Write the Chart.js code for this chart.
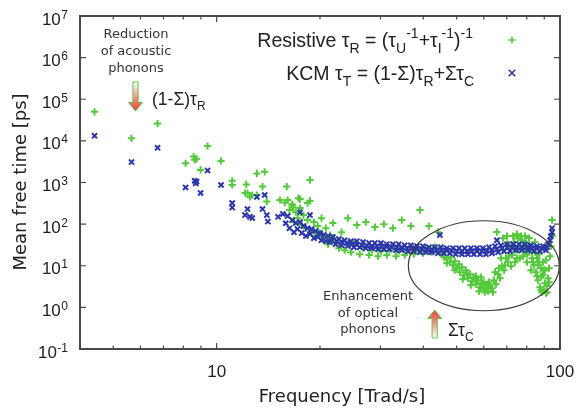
<!DOCTYPE html>
<html>
<head>
<meta charset="utf-8">
<script src="https://cdn.jsdelivr.net/npm/chart.js@4.4.1/dist/chart.umd.min.js"></script>
<style>
  html, body { margin: 0; padding: 0; background: #fff; }
  canvas { display: block; }
</style>
</head>
<body>
<canvas id="tauChart" width="582" height="410"></canvas>
<script>
// ::::: DATA :::::
// Resistive tau_R  (green +)
const resistiveFreq = [
    4.41, 5.65, 6.73, 8.12, 8.57, 8.63, 8.74, 8.98, 9.41, 10.3, 11.1, 11.1, 12.1, 12.2, 12.5,
    12.3, 12.7, 13.1, 13.1, 13.6, 13.8, 14.0, 15.3, 15.8, 16.0, 16.6, 16.7, 17.3, 17.5, 18.4, 18.7, 18.7,
    16.1, 16.3, 16.6, 16.8, 17.0, 17.2, 17.5, 17.7, 17.9, 18.2, 18.4, 18.9, 19.2, 19.4, 19.7, 20.0,
    20.2, 20.5, 20.8, 21.1, 21.4, 21.8, 22.2, 22.7, 23.1, 23.6, 24.1, 24.6, 25.1, 25.6, 26.1, 26.7,
    27.2, 27.8, 28.3, 28.9, 29.5, 30.1, 30.7, 31.3, 31.9, 32.6, 33.3, 33.9, 34.6, 35.3, 36.1, 36.8,
    37.5, 38.3, 39.1, 39.9, 40.7, 41.5, 42.3, 43.2, 44.1, 45.0, 45.9, 46.8, 47.8, 48.8, 49.4, 50.1,
    51.1, 51.8, 52.5, 53.2, 53.9, 54.7, 55.4, 56.1, 56.9, 56.9, 57.7, 58.5, 59.2, 60.0, 60.0, 60.9,
    61.7, 61.7, 62.5, 63.4, 64.2, 65.1, 65.5, 66.0, 66.9, 67.8, 68.2, 68.7, 69.6, 70.1, 70.6, 71.5,
    72.5, 73.4, 73.9, 74.4, 74.9, 75.4, 76.4, 76.4, 77.5, 78.5, 79.1, 79.6, 80.1, 80.7, 81.8, 82.3,
    82.9, 84.0, 84.5, 85.1, 85.7, 86.3, 86.8, 87.4, 88.0, 88.6, 89.2, 89.8, 89.8, 90.4, 91.0, 91.0,
    91.6, 92.3, 92.9, 93.5, 94.1, 94.8, 94.8,
    46.8, 48.1, 49.4, 50.8, 52.1, 53.6, 55.0, 56.5, 58.1, 58.9, 60.4, 62.1, 63.8, 64.7,
    66.4, 67.3, 68.2, 69.1, 70.1, 71.0, 72.0, 73.0, 73.9, 74.9, 75.9, 77.0, 78.0, 79.1, 80.1, 81.2,
    82.3, 83.4, 84.5, 85.7, 86.3, 86.8, 88.0, 88.0, 89.2, 90.4, 91.6, 92.9
];
const resistiveTau = [
    50000, 11500, 26000, 2900, 4200, 3500, 3700, 2000, 7500, 3300, 1100, 870, 560, 900, 450,
    560, 500, 1650, 500, 800, 1800, 350, 380, 330, 800, 300, 250, 420, 400, 320, 1150, 360,
    378, 217, 286, 112, 194, 139, 243, 95, 165, 80, 125, 64, 112, 51.5, 90, 61,
    139, 46, 80, 33, 54.5, 106, 41, 26.5, 64, 23.7, 139, 21.2, 35, 95, 19, 26.5,
    112, 18, 23.7, 85, 17, 22.4, 100, 18, 23.7, 80, 17, 22.4, 125, 18, 23.7, 90,
    19, 25, 217, 20, 26.5, 90, 21.2, 28, 64, 20, 16.1, 14.4, 12.2, 10.3, 12.9, 8.75,
    7.0, 9.25, 5.94, 7.83, 5.03, 6.28, 4.26, 5.32, 3.61, 5.62, 4.51, 3.06, 3.82, 2.74, 4.03, 3.42,
    2.45, 3.61, 3.24, 2.9, 4.51, 3.61, 64.3, 6.28, 5.03, 9.78, 46, 7.83, 15.2, 51.5, 12.2, 26.5,
    18, 36.9, 12.2, 23.7, 57.5, 46, 29.6, 15.2, 41, 23.7, 51.5, 35, 12.2, 21.2, 29.6, 7.83,
    15.2, 10.3, 21.2, 7.0, 15.2, 4.51, 12.2, 3.06, 8.75, 2.32, 5.94, 2.59, 7.83, 3.82, 2.19, 13.6,
    3.24, 5.03, 8.75, 17, 29.6, 51.5, 125,
    11.5, 16.1, 7.83, 10.9, 4.76, 6.63, 3.42, 4.76, 2.45, 5.32, 2.32, 4.03, 2.32, 7.0,
    8.75, 15.2, 23.7, 10.3, 33, 17, 9.78, 51.5, 29.6, 15.2, 23.7, 51.5, 17, 33, 19, 46.1,
    23.7, 12.2, 36.9, 5.62, 10.3, 19, 5.62, 2.59, 12.2, 7.83, 2.32, 4.03
];
// KCM tau_T  (blue x)
const kcmFreq = [
    4.41, 5.65, 6.73, 8.12, 8.63, 8.69, 8.74, 8.98, 9.41, 10.3, 11.1, 11.1, 12.1, 12.3, 12.5,
    12.7, 13.1, 13.6, 13.8, 14.0, 14.1, 15.1, 15.6, 15.9,
    16.1, 16.3, 16.6, 16.8, 17.0, 17.2, 17.5, 17.5, 17.7, 17.9, 18.2, 18.4, 18.7, 18.7, 18.9, 19.2,
    19.4, 19.7, 20.0, 20.2, 20.5, 20.8, 21.1, 21.4, 21.8, 22.2, 22.7, 23.1, 23.6, 24.1, 24.6, 25.1,
    25.6, 26.1, 26.7, 27.2, 27.8, 28.3, 28.9, 29.5, 30.1, 30.7, 31.3, 31.9, 32.6, 33.3, 33.9, 34.6,
    35.3, 36.1, 36.8, 37.5, 38.3, 39.1, 39.9, 40.7, 41.5, 42.3, 43.2, 44.1, 44.7, 45.0, 45.9, 46.8,
    47.8, 48.8, 49.7, 50.8, 51.8, 52.8, 53.9, 55.0, 56.1, 57.3, 58.5, 59.6, 60.9, 62.1, 63.4, 64.7,
    65.5, 66.0, 67.3, 68.7, 70.1, 71.5, 73.0, 74.4, 75.9, 77.5, 79.1, 80.7, 82.3, 84.0, 85.7, 87.4,
    89.2, 91.0, 92.3, 93.5, 94.1, 94.8, 94.8,
    21.6, 22.4, 23.1, 23.9, 24.8, 25.6, 26.5, 27.4, 28.3, 29.3, 30.3, 31.3, 32.4, 33.5, 34.6, 35.8,
    37.0, 38.3, 39.6, 41.0, 42.3, 43.8, 45.3, 46.8, 48.4, 50.1, 51.8, 53.6, 55.4, 57.3, 59.2, 61.3,
    63.4, 65.5, 67.8, 70.1, 72.5, 74.9, 77.5, 80.1, 82.9, 85.7, 88.6, 91.6
];
const kcmTau = [
    13200, 3100, 6800, 760, 1100, 950, 1050, 560, 1950, 870, 320, 250, 165, 230, 150,
    140, 450, 230, 500, 165, 115, 150, 175, 105,
    156, 80, 125, 64, 106, 76, 112, 194, 61, 90, 52, 80, 58, 165, 76, 46,
    68, 49, 61, 41, 55, 39, 52, 37, 49, 33, 44, 31, 41, 30, 39, 28,
    39, 28, 37, 26.5, 35, 26.5, 35, 25, 35, 25, 33, 25, 33, 23.7, 33, 23.7,
    31, 22.4, 31, 22.4, 29.6, 21.2, 29.6, 21.2, 28, 21.2, 28, 20.1, 54.5, 28, 20.1, 26.5,
    20.1, 26.5, 19, 26.5, 19, 26.5, 19, 26.5, 19, 26.5, 19, 26.5, 19, 28, 20.1, 29.6,
    41, 21.2, 31, 22.4, 33, 22.4, 33, 23.7, 33, 23.7, 33, 23.7, 31, 22.4, 29.6, 22.4,
    29.6, 23.7, 33, 41, 51.5, 64, 80,
    41, 38, 37, 35, 33, 32, 31, 30.4, 29.6, 29.6, 28.8, 28.8, 28, 28, 27.3, 26.5,
    26.5, 25.1, 25.1, 24.4, 24.4, 23.7, 23.7, 23, 23, 22.4, 22.4, 22.4, 22.4, 22.4, 22.4, 23,
    23.7, 25.1, 26.5, 27.3, 27.3, 28, 28, 28, 26.5, 25.8, 25.8, 28
];
// ::::: AXES :::::
const xRange = [4, 100];
const yRange = [0.1, 1e7];
const xTickLabels = [10, 100];
const xMinorTicks = [5, 6, 7, 8, 9, 20, 30, 40, 50, 60, 70, 80, 90];
const yTickExponents = [-1, 0, 1, 2, 3, 4, 5, 6, 7];

const greenColor = "#55c93c";
const blueColor = "#2b36a8";
const inkColor = "#222";

// Text with sub/superscripts: parts are [text, "n" | "sub" | "sup"]
function drawRich(ctx, parts, x, y, align, size, family) {
    const small = Math.round(size * 0.7);
    const widths = parts.map(p => {
        ctx.font = (p[1] === "n" ? size : small) + "px " + family;
        return ctx.measureText(p[0]).width;
    });
    const total = widths.reduce((a, b) => a + b, 0);
    let cx = align === "right" ? x - total : (align === "center" ? x - total / 2 : x);
    ctx.textAlign = "left";
    ctx.textBaseline = "alphabetic";
    parts.forEach((p, i) => {
        ctx.font = (p[1] === "n" ? size : small) + "px " + family;
        let dy = 0;
        if (p[1] === "sub") dy = size * 0.3;
        if (p[1] === "sup") dy = -size * 0.45;
        ctx.fillText(p[0], cx, y + dy);
        cx += widths[i];
    });
}

function drawMarker(ctx, x, y, rot, color) {
    const r = 3.2;
    ctx.strokeStyle = color;
    ctx.lineWidth = 1.6;
    ctx.beginPath();
    if (rot) {
        ctx.moveTo(x - r, y - r); ctx.lineTo(x + r, y + r);
        ctx.moveTo(x + r, y - r); ctx.lineTo(x - r, y + r);
    } else {
        ctx.moveTo(x - r, y); ctx.lineTo(x + r, y);
        ctx.moveTo(x, y - r); ctx.lineTo(x, y + r);
    }
    ctx.stroke();
}

// Block arrow with a red -> white gradient and green outline
function drawArrow(ctx, cx, tipY, tailY, down) {
    const dir = down ? 1 : -1;
    const headLen = 8.5;
    const baseY = tipY - dir * headLen;
    const grad = ctx.createLinearGradient(0, tipY, 0, tailY);
    grad.addColorStop(0, "#e8473b");
    grad.addColorStop(0.35, "#ee7a6e");
    grad.addColorStop(1, "#ffffff");
    ctx.beginPath();
    ctx.moveTo(cx, tipY);
    ctx.lineTo(cx + 7, baseY);
    ctx.lineTo(cx + 2.6, baseY);
    ctx.lineTo(cx + 2.6, tailY);
    ctx.lineTo(cx - 2.6, tailY);
    ctx.lineTo(cx - 2.6, baseY);
    ctx.lineTo(cx - 7, baseY);
    ctx.closePath();
    ctx.fillStyle = grad;
    ctx.fill();
    ctx.strokeStyle = "#5cc64a";
    ctx.lineWidth = 1;
    ctx.stroke();
}

const gnuplotLook = {
    id: "gnuplotLook",
    afterDatasetsDraw(chart) {
        const ctx = chart.ctx;
        const area = chart.chartArea;
        const xs = chart.scales.x;
        const ys = chart.scales.y;
        ctx.save();

        // ellipse around the optical region
        ctx.beginPath();
        ctx.ellipse(xs.getPixelForValue(60), ys.getPixelForValue(10), 75.5, 45, 0, 0, Math.PI * 2);
        ctx.strokeStyle = "#3a3a3a";
        ctx.lineWidth = 1.2;
        ctx.stroke();

        // frame
        ctx.strokeStyle = "#4a4a4a";
        ctx.lineWidth = 2;
        ctx.strokeRect(area.left, area.top, area.right - area.left, area.bottom - area.top);

        // y ticks (both sides) and labels
        ctx.lineWidth = 1.2;
        ctx.fillStyle = inkColor;
        yTickExponents.forEach(e => {
            const py = ys.getPixelForValue(Math.pow(10, e));
            ctx.beginPath();
            ctx.moveTo(area.left, py); ctx.lineTo(area.left + 6, py);
            ctx.moveTo(area.right, py); ctx.lineTo(area.right - 6, py);
            ctx.stroke();
            ctx.font = "12px 'Liberation Sans'";
            const expW = ctx.measureText(String(e)).width;
            ctx.textAlign = "left";
            ctx.textBaseline = "alphabetic";
            ctx.fillText(String(e), 68 - expW, py + 2.5);
            ctx.font = "17px 'Liberation Sans'";
            ctx.textAlign = "right";
            ctx.fillText("10", 68 - expW - 0.5, py + 8.5);
        });

        // x ticks (bottom and top)
        xTickLabels.forEach(v => {
            const px = xs.getPixelForValue(v);
            ctx.beginPath();
            ctx.moveTo(px, area.bottom); ctx.lineTo(px, area.bottom - 6);
            ctx.moveTo(px, area.top); ctx.lineTo(px, area.top + 6);
            ctx.stroke();
            ctx.font = "17px 'Liberation Sans'";
            ctx.textAlign = "center";
            ctx.fillText(String(v), px, 377);
        });
        xMinorTicks.forEach(v => {
            const px = xs.getPixelForValue(v);
            ctx.beginPath();
            ctx.moveTo(px, area.bottom); ctx.lineTo(px, area.bottom - 3.5);
            ctx.moveTo(px, area.top); ctx.lineTo(px, area.top + 3.5);
            ctx.stroke();
        });

        // axis titles
        ctx.font = "18px 'DejaVu Sans'";
        ctx.textAlign = "center";
        ctx.textBaseline = "alphabetic";
        ctx.fillText("Frequency [Trad/s]", 342, 402);
        ctx.save();
        ctx.translate(26, 182);
        ctx.rotate(-Math.PI / 2);
        ctx.fillText("Mean free time [ps]", 0, 0);
        ctx.restore();

        // legend
        const lf = "'Liberation Sans'";
        drawRich(ctx, [["Resistive τ", "n"], ["R", "sub"], [" = (τ", "n"], ["U", "sub"], ["-1", "sup"],
            ["+τ", "n"], ["I", "sub"], ["-1", "sup"], [")", "n"], ["-1", "sup"]], 473, 47, "right", 19.5, lf);
        drawRich(ctx, [["KCM τ", "n"], ["T", "sub"], [" = (1-Σ)τ", "n"], ["R", "sub"], ["+Στ", "n"], ["C", "sub"]],
            474, 80, "right", 19.5, lf);
        drawMarker(ctx, 512, 40, false, greenColor);
        drawMarker(ctx, 512, 73, true, blueColor);

        // annotations
        ctx.fillStyle = "#333";
        ctx.font = "13px 'DejaVu Sans'";
        ctx.textAlign = "center";
        ctx.textBaseline = "middle";
        ["Reduction", "of acoustic", "phonons"].forEach((t, i) => ctx.fillText(t, 136, 35 + i * 16.7));
        ["Enhancement", "of optical", "phonons"].forEach((t, i) => ctx.fillText(t, 368, 297 + i * 16.5));
        ctx.fillStyle = inkColor;
        drawRich(ctx, [["(1-Σ)τ", "n"], ["R", "sub"]], 152, 105, "left", 17.5, lf);
        drawRich(ctx, [["Στ", "n"], ["C", "sub"]], 448, 336, "left", 17.5, lf);
        drawArrow(ctx, 135.5, 111, 82, true);
        drawArrow(ctx, 434.7, 310, 338, false);

        ctx.restore();
    }
};

const resistivePoints = resistiveFreq.map((f, i) => ({ x: f, y: resistiveTau[i] }));
const kcmPoints = kcmFreq.map((f, i) => ({ x: f, y: kcmTau[i] }));

const ctx = document.getElementById("tauChart");
const tauChart = new Chart(ctx, {
    type: "scatter",
    data: {
        datasets: [{
            label: "Resistive",
            data: resistivePoints,
            pointStyle: "cross",
            pointRadius: 3.6,
            borderWidth: 2,
            borderColor: greenColor,
            backgroundColor: greenColor,
            order: 2
        }, {
            label: "KCM",
            data: kcmPoints,
            pointStyle: "crossRot",
            pointRadius: 3.6,
            borderWidth: 2,
            borderColor: blueColor,
            backgroundColor: blueColor,
            order: 1
        }]
    },
    options: {
        responsive: false,
        animation: false,
        devicePixelRatio: 1,
        layout: { padding: { left: 80, right: 22, top: 16, bottom: 61 } },
        scales: {
            x: { type: "logarithmic", min: xRange[0], max: xRange[1], display: false },
            y: { type: "logarithmic", min: yRange[0], max: yRange[1], display: false }
        },
        plugins: {
            legend: { display: false },
            tooltip: { enabled: false }
        }
    },
    plugins: [gnuplotLook]
});
</script>
</body>
</html>
